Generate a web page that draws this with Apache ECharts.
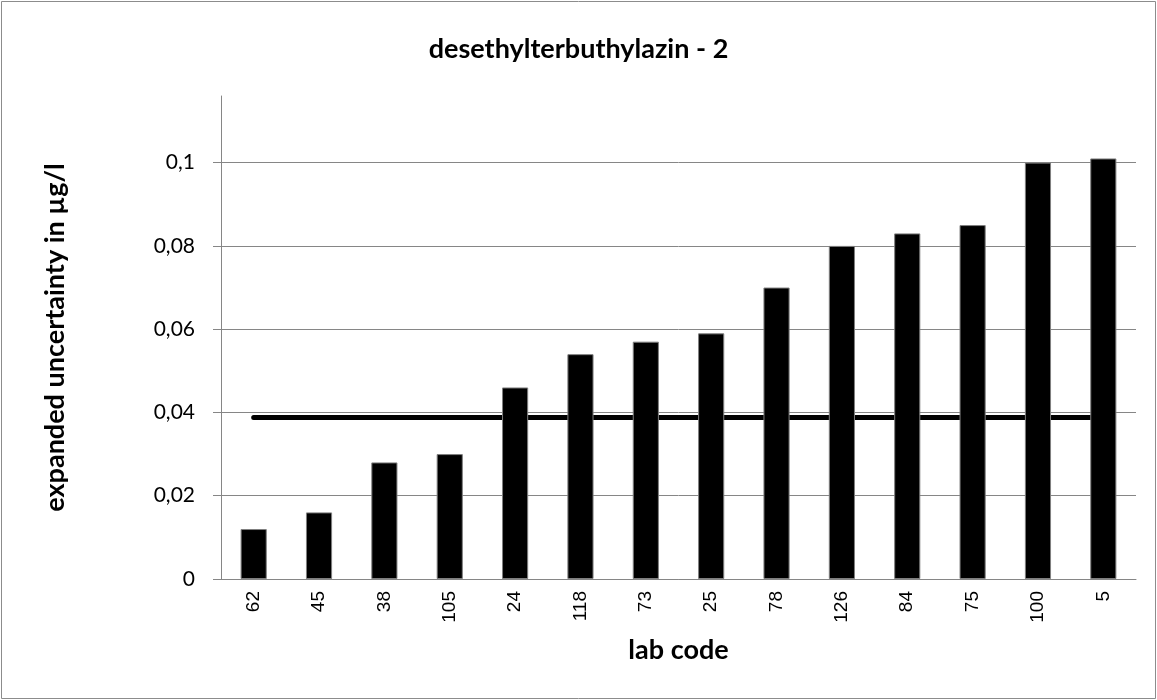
<!DOCTYPE html>
<html><head><meta charset="utf-8">
<script src="https://cdn.jsdelivr.net/npm/echarts@6/dist/echarts.min.js"></script>
<style>html,body{margin:0;padding:0;background:#fff}#c{width:1157px;height:700px}</style>
</head><body><div id="c"></div>
<script>
const categories = ['62','45','38','105','24','118','73','25','78','126','84','75','100','5'];
const uncertainty = [0.012,0.016,0.028,0.030,0.046,0.054,0.057,0.059,0.070,0.080,0.083,0.085,0.100,0.101];
const referenceValue = 0.0388;
const refLine = categories.map(() => referenceValue);
const yTicks = [0, 0.02, 0.04, 0.06, 0.08, 0.1];

const chart = echarts.init(document.getElementById('c'));
chart.setOption({
  animation: false,
  backgroundColor: '#fff',
  graphic: [{type:'rect', shape:{x:1.5,y:1.5,width:1154,height:697}, style:{fill:'none', stroke:'#8c8c8c', lineWidth:1}}],
  title: {text:'desethylterbuthylazin - 2', left:'center', top:31,
    textStyle:{fontFamily:'Lato', fontWeight:'bold', fontSize:27, color:'#000'}},
  grid: {left:221, right:21, top:96, bottom:121},
  xAxis: {type:'category', data:categories,
    name:'lab code', nameLocation:'middle', nameGap:58,
    nameTextStyle:{fontFamily:'Lato', fontWeight:'bold', fontSize:27, color:'#000'},
    axisLine:{lineStyle:{color:'#868686'}},
    axisTick:{length:7, lineStyle:{color:'#868686'}},
    axisLabel:{rotate:90, fontFamily:'Liberation Sans', fontSize:19, color:'#000', margin:12}},
  yAxis: {type:'value', min:0, max:0.116, interval:0.02,
    name:'expanded uncertainty in µg/l', nameLocation:'middle', nameGap:152,
    nameTextStyle:{fontFamily:'Lato', fontWeight:'bold', fontSize:27, color:'#000'},
    axisLine:{show:true, lineStyle:{color:'#868686'}},
    axisTick:{show:true, length:8, lineStyle:{color:'#868686'}},
    splitLine:{show:true, showMaxLine:false, lineStyle:{color:'#868686'}},
    axisLabel:{fontFamily:'Lato', fontSize:21, color:'#000', margin:26, showMaxLabel:false,
      formatter: v => yTicks.some(t => Math.abs(t - v) < 1e-9) ? String(+v.toFixed(4)).replace('.', ',') : ''}},
  series: [
    {type:'line', data:refLine, symbol:'none', z:1,
      lineStyle:{color:'#000', width:5, cap:'round'}},
    {type:'bar', data:uncertainty, barWidth:'40%', z:2,
      itemStyle:{color:'#000', borderColor:'#7f7f7f', borderWidth:1}}
  ]
});
</script></body></html>
